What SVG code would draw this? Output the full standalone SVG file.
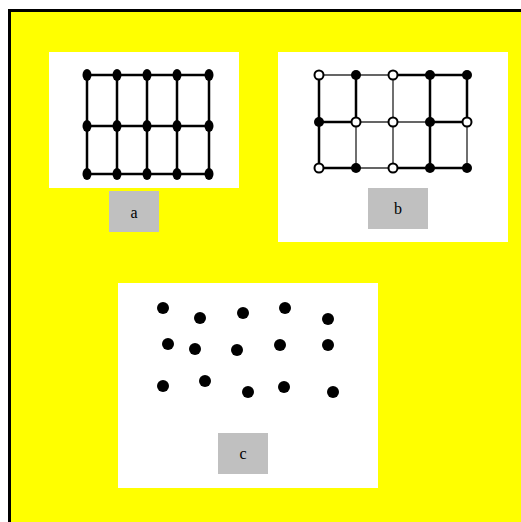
<svg xmlns="http://www.w3.org/2000/svg" width="521" height="522" viewBox="0 0 521 522">
<style>
.panel{fill:#ffffff}
.lbl{fill:#c0c0c0}
.t{font-family:"Liberation Serif",serif;font-size:16px;fill:#000;text-anchor:middle}
.g{stroke:#000;stroke-width:2.5;fill:none}
.gl{stroke:#333;stroke-width:1.4;fill:none}
.d{fill:#000}
.o{fill:#fff;stroke:#000;stroke-width:2}
</style>
<rect x="0" y="0" width="521" height="522" fill="#ffffff"/>
<rect x="8" y="9" width="513" height="513" fill="#000"/>
<rect x="11" y="12" width="510" height="510" fill="#ffff00"/>

<g id="panel-a">
<rect class="panel" x="49" y="52" width="190" height="136"/>
<g id="grid-a">
<path class="g" d="M87 75H209M87 126H209M87 174H209M87 75V174M117 75V174M147 75V174M177 75V174M209 75V174"/>
<g class="d">
<ellipse cx="87" cy="75" rx="4.5" ry="6"/><ellipse cx="117" cy="75" rx="4.5" ry="6"/><ellipse cx="147" cy="75" rx="4.5" ry="6"/><ellipse cx="177" cy="75" rx="4.5" ry="6"/><ellipse cx="209" cy="75" rx="4.5" ry="6"/>
<ellipse cx="87" cy="126" rx="4.5" ry="6"/><ellipse cx="117" cy="126" rx="4.5" ry="6"/><ellipse cx="147" cy="126" rx="4.5" ry="6"/><ellipse cx="177" cy="126" rx="4.5" ry="6"/><ellipse cx="209" cy="126" rx="4.5" ry="6"/>
<ellipse cx="87" cy="174" rx="4.5" ry="6"/><ellipse cx="117" cy="174" rx="4.5" ry="6"/><ellipse cx="147" cy="174" rx="4.5" ry="6"/><ellipse cx="177" cy="174" rx="4.5" ry="6"/><ellipse cx="209" cy="174" rx="4.5" ry="6"/>
</g>
</g>
</g>
<g id="label-a">
<rect class="lbl" x="109" y="191" width="50" height="41"/>
<text class="t" x="134" y="218">a</text>
</g>

<g id="panel-b">
<rect class="panel" x="278" y="52" width="230" height="190"/>
<g id="grid-b">
<path class="g" d="M393 75H467M319 122H356M430 122H467M393 168H467M319 75V168M356 75V122M430 75V168M467 75V122M319 168H356"/>
<path class="gl" d="M319 75H393M356 122H430M356 168H393M356 122V168M393 75V168M467 122V168"/>
<circle class="o" cx="319" cy="75" r="4.5"/><circle class="d" cx="356" cy="75" r="5"/><circle class="o" cx="393" cy="75" r="4.5"/><circle class="d" cx="430" cy="75" r="5"/><circle class="d" cx="467" cy="75" r="5"/>
<circle class="d" cx="319" cy="122" r="5"/><circle class="o" cx="356" cy="122" r="4.5"/><circle class="o" cx="393" cy="122" r="4.5"/><circle class="d" cx="430" cy="122" r="5"/><circle class="o" cx="467" cy="122" r="4.5"/>
<circle class="o" cx="319" cy="168" r="4.5"/><circle class="d" cx="356" cy="168" r="5"/><circle class="o" cx="393" cy="168" r="4.5"/><circle class="d" cx="430" cy="168" r="5"/><circle class="d" cx="467" cy="168" r="5"/>
</g>
</g>
<g id="label-b">
<rect class="lbl" x="368" y="188" width="60" height="41"/>
<text class="t" x="398" y="214">b</text>
</g>

<g id="panel-c">
<rect class="panel" x="118" y="283" width="260" height="205"/>
<g class="d">
<circle cx="163" cy="308" r="6"/><circle cx="200" cy="318" r="6"/><circle cx="243" cy="313" r="6"/><circle cx="285" cy="308" r="6"/><circle cx="328" cy="319" r="6"/>
<circle cx="168" cy="344" r="6"/><circle cx="195" cy="349" r="6"/><circle cx="237" cy="350" r="6"/><circle cx="280" cy="345" r="6"/><circle cx="328" cy="345" r="6"/>
<circle cx="163" cy="386" r="6"/><circle cx="205" cy="381" r="6"/><circle cx="248" cy="392" r="6"/><circle cx="284" cy="387" r="6"/><circle cx="333" cy="392" r="6"/>
</g>
</g>
<g id="label-c">
<rect class="lbl" x="218" y="433" width="50" height="41"/>
<text class="t" x="243" y="459">c</text>
</g>
<g id="connectors"/>
</svg>
